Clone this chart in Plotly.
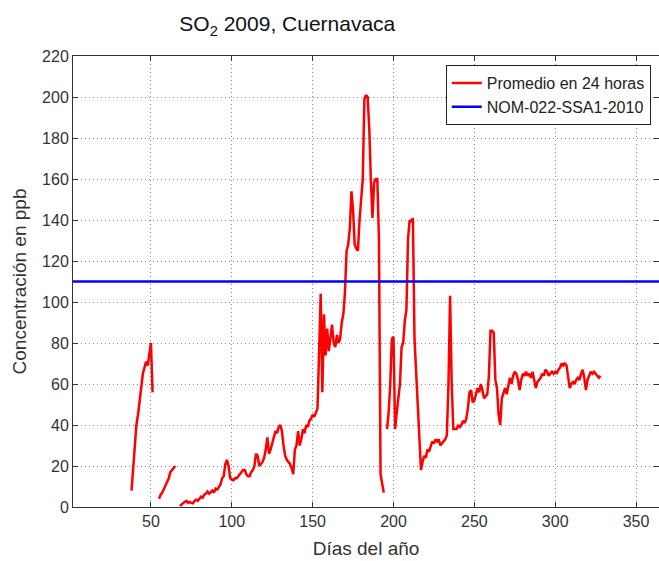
import plotly.graph_objects as go

# Daily 24 h averages (ppb); None marks missing days
days_1 = list(range(38, 52))
so2_1 = [8, 20, 32, 40, 45, 52, 61, 65, 68, 71, 69, 76, 80, 56]

days_2 = list(range(55, 66))
so2_2 = [4, 6, 7, 9, 10, 12, 14, 17, 18, 19, 20]

days_3 = list(range(68, 195))
so2_3 = [0.5, 1.5, 2, 2.5, 3, 2, 2.5, 2, 1.8, 3, 3.5, 3, 4, 5, 4.5, 6, 6.5, 7.5, 6.5, 7.5,
         8, 7, 9, 8.5, 10, 11, 14, 15, 21, 23, 20, 14, 13.5, 13, 14, 14, 15, 16, 17, 18,
         18, 16, 15, 15, 17, 18, 20, 26, 25, 20, 21, 22, 24, 28, 34, 26, 28, 31, 35, 37,
         36, 39, 40, 37, 30, 25, 23, 22, 21, 19, 16, 28, 30, 37, 30, 33, 38, 36, 40, 39,
         42, 43, 45, 44, 46, 48, 76, 104, 56, 94, 74, 87, 76, 84, 89, 80, 78, 84, 80, 82,
         90, 94, 105, 125, 128, 136, 154, 145, 128, 126, 125, 140, 150, 160, 199, 201, 200, 185, 160, 141,
         158, 160, 160, 131, 16, 12, 7]

days_4 = list(range(196, 329))
so2_4 = [38, 46, 60, 82, 83, 38, 46, 55, 60, 78, 80, 91, 96, 131, 140, 139, 141, 82, 66, 46,
         30, 18, 22, 25, 24, 28, 27, 30, 32, 31, 33, 32, 33, 30, 31, 32, 33, 35, 60, 103,
         60, 38, 38, 38, 40, 39, 40, 42, 41, 43, 48, 56, 57, 51, 52, 55, 58, 56, 60, 57,
         53, 54, 55, 64, 86, 86, 85, 62, 58, 45, 40, 53, 56, 58, 55, 60, 63, 60, 64, 66,
         65, 62, 57, 62, 65, 64, 66, 64, 65, 63, 66, 62, 58, 61, 62, 63, 65, 64, 67, 66,
         64, 65, 66, 65, 66, 65, 67, 68, 70, 69, 70, 69, 64, 58, 60, 61, 60, 62, 63, 62,
         65, 67, 63, 57, 62, 64, 66, 65, 66, 65, 64, 63, 64]

norm_days = [1, 365]
norm_value = [110, 110]

x_ticks = [50, 100, 150, 200, 250, 300, 350]
y_ticks = list(range(0, 221, 20))

days = days_1 + [None] + days_2 + [None] + days_3 + [None] + days_4
so2 = so2_1 + [None] + so2_2 + [None] + so2_3 + [None] + so2_4

font = "Liberation Sans, Arial, sans-serif"

fig = go.Figure()
fig.add_trace(go.Scatter(x=days, y=so2, mode="lines", name="Promedio en 24 horas",
                         line=dict(color="#ff0000", width=2.5), connectgaps=False))
fig.add_trace(go.Scatter(x=norm_days, y=norm_value, mode="lines", name="NOM-022-SSA1-2010",
                         line=dict(color="#0000ff", width=2.5)))

axis_style = dict(showline=True, linecolor="#333", linewidth=1, mirror="ticks",
                  ticks="inside", ticklen=5, tickcolor="#333", automargin=False,
                  showgrid=True, gridcolor="#888", griddash="1px,3px", gridwidth=1,
                  zeroline=False, tickfont=dict(size=16, color="#333", family=font))

fig.update_xaxes(range=[1.8, 364.2], tickvals=x_ticks,
                 title=dict(text="Días del año", font=dict(size=19, color="#333", family=font),
                            standoff=12),
                 **axis_style)
fig.update_yaxes(range=[0, 220], tickvals=y_ticks,
                 title=dict(text="Concentración en ppb", font=dict(size=19, color="#333", family=font),
                            standoff=10),
                 **axis_style)

fig.update_layout(
    width=659, height=561,
    margin=dict(l=73, r=0, t=56, b=54, autoexpand=False),
    plot_bgcolor="white", paper_bgcolor="white",
    font=dict(family=font, color="#222"),
    title=dict(text="SO<sub>2</sub> 2009, Cuernavaca", x=0.436, xanchor="center",
               y=0.957, yanchor="middle", font=dict(size=21, color="#111", family=font)),
    legend=dict(x=0.986, xanchor="right", y=0.98, yanchor="top",
                bgcolor="white", bordercolor="#222", borderwidth=1, itemwidth=30,
                font=dict(size=16, color="#222", family=font), tracegroupgap=0),
    showlegend=True,
)

# drop the page's default body margin so the figure sits at the window corner
fig.write_html("out.html", config={"displayModeBar": False},
               post_script="document.body.style.margin='0';")
